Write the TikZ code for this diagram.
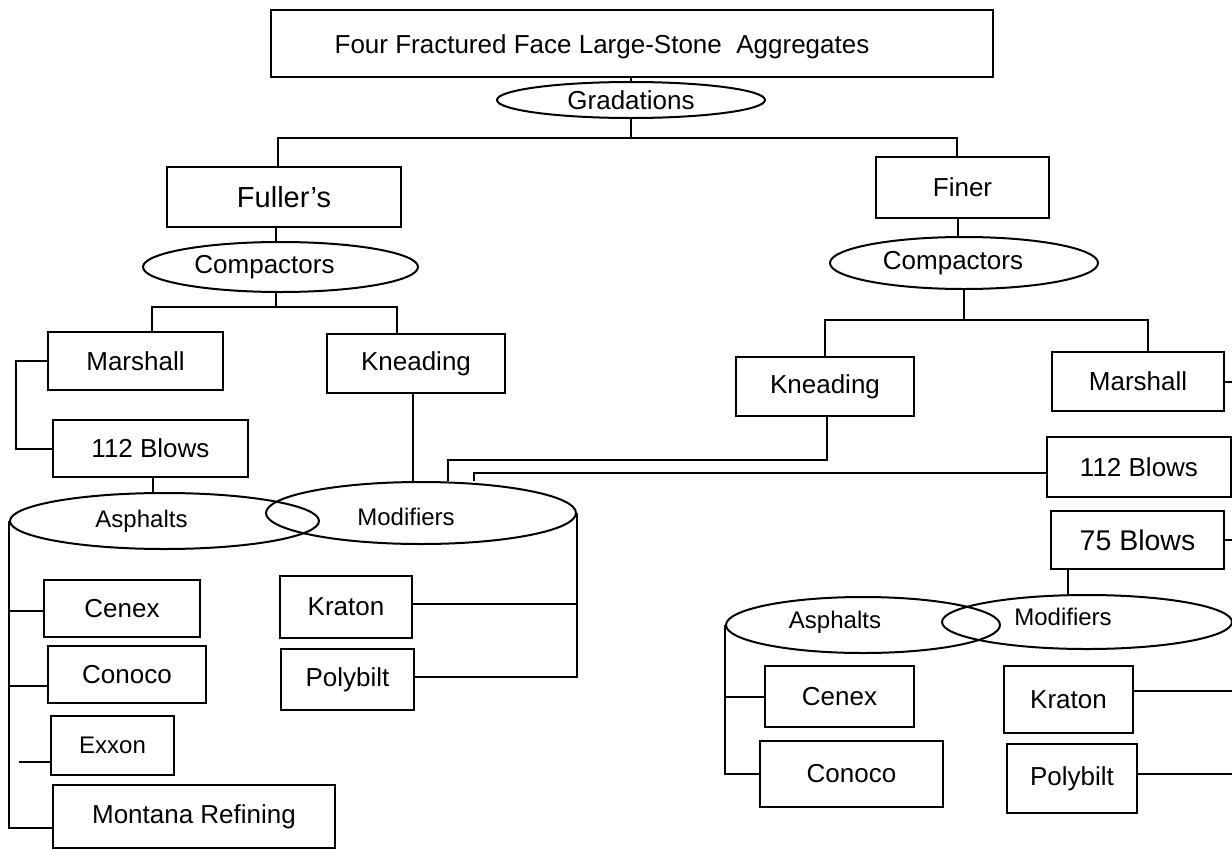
\documentclass[tikz,border=0pt]{standalone}
\usepackage{fontspec}
\setmainfont{Liberation Sans}
\usetikzlibrary{shapes.geometric}

\begin{document}
\begin{tikzpicture}[x=1pt, y=-1pt, line width=2pt,
    font=\fontsize{26}{31}\selectfont,
    box/.style={draw, rectangle, inner sep=0pt},
    oval/.style={draw, ellipse, inner sep=0pt},
    big/.style={font=\fontsize{29}{34}\selectfont},
    small/.style={font=\fontsize{24}{28}\selectfont}]
  \useasboundingbox (0,0) rectangle (1232,849);

  % top of the tree
  \node[box, minimum width=722pt, minimum height=67pt,
        label={[xshift=-30pt, yshift=-3pt]center:Four Fractured Face Large-Stone\ \ Aggregates}] (title) at (632,43.5) {};
  \node[oval, minimum width=268pt, minimum height=36pt] (grad) at (631,100) {Gradations};
  \node[box, big, minimum width=234pt, minimum height=60pt] (fuller) at (284,197) {Fuller's};
  \node[box, minimum width=173pt, minimum height=61pt] (finer) at (962.5,187.5) {Finer};
  \node[oval, minimum width=275pt, minimum height=50pt, label={[xshift=-16pt]center:Compactors}] (compL) at (280.5,267) {};
  \node[oval, minimum width=268pt, minimum height=52pt, label={[xshift=-11pt]center:Compactors}] (compR) at (964,263) {};

  % boxes
  \foreach \n/\x/\y/\w/\h/\t in {marshL/135.5/361/175/58/Marshall,
      kneadL/416/363.5/178/59/Kneading,
      blowsL/150.5/448.5/195/57/112 Blows,
      kneadR/825/386.5/178/59/Kneading,
      marshR/1138/381.5/172/59/Marshall,
      blowsR/1139/467/184/60/112 Blows,
      cenexL/122/608.5/156/57/Cenex,
      conocoL/127/674.5/158/57/Conoco,
      montana/194/816.5/282/63/Montana Refining,
      kratonL/346/607/132/62/Kraton,
      polyL/347.5/679.5/133/61/Polybilt,
      cenexR/839.5/696.5/149/61/Cenex,
      conocoR/851.5/774/183/66/Conoco,
      kratonR/1068.5/699.5/129/67/Kraton,
      polyR/1072/778.5/130/69/Polybilt}
    \node[box, minimum width=\w pt, minimum height=\h pt] (\n) at (\x,\y) {\t};
  \node[box, small, minimum width=123pt, minimum height=59pt] (exxon) at (112.5,745.5) {Exxon};
  \node[box, font=\fontsize{28.5}{33}\selectfont, minimum width=173pt, minimum height=58pt] (blows75) at (1137.5,540) {75 Blows};

  % asphalts and modifiers
  \node[oval, minimum width=309pt, minimum height=56pt, label={[small, xshift=-23pt]center:Asphalts}] (asphL) at (164.5,521) {};
  \node[oval, minimum width=310pt, minimum height=62pt, label={[small, xshift=-15pt, yshift=-4pt]center:Modifiers}] (modL) at (421,513) {};
  \node[oval, minimum width=274pt, minimum height=56pt, label={[small, xshift=-28pt, yshift=3pt]center:Asphalts}] (asphR) at (863,625) {};
  \node[oval, minimum width=290pt, minimum height=54pt, label={[small, xshift=-24pt, yshift=5pt]center:Modifiers}] (modR) at (1087,622) {};

  % connectors
  \coordinate (gbar) at (631,138);
  \draw (title.south -| grad.north) -- (grad.north);
  \draw (grad.south) -- (gbar);
  \draw ([xshift=-6pt]fuller.north) |- (gbar) -| ([xshift=-6pt]finer.north);
  \draw ([xshift=-8pt]fuller.south) -- ([xshift=-8pt]fuller.south |- compL.north);
  \coordinate (cbarL) at (276,307);
  \draw (compL.south -| cbarL) -- (cbarL);
  \draw ([xshift=16.5pt]marshL.north) |- (cbarL) -| ([xshift=-19pt]kneadL.north);
  \draw (marshL.west) -- ++(-31,0) |- (blowsL.west);
  \draw ([xshift=2.5pt]blowsL.south) -- ([xshift=2.5pt]blowsL.south |- asphL.north);
  \draw ([xshift=-3pt]kneadL.south) -- ([xshift=-3pt]kneadL.south |- modL.north);
  \draw (asphL.west) |- ([yshift=-11pt]montana.west);
  \draw ([yshift=-2.5pt]cenexL.west) -- ([yshift=-2.5pt]cenexL.west -| asphL.west);
  \draw ([yshift=-11.5pt]conocoL.west) -- ([yshift=-11.5pt]conocoL.west -| asphL.west);
  \draw ([yshift=-16.5pt]exxon.west) -- ++(-31,0);
  \draw (modL.east) |- ([yshift=2.5pt]polyL.east);
  \draw ([yshift=3pt]kratonL.east) -- ([yshift=3pt]kratonL.east -| modL.east);

  \draw ([xshift=-5pt]finer.south) -- ([xshift=-5pt]finer.south |- compR.north);
  \coordinate (cbarR) at (964,320);
  \draw (compR.south) -- (cbarR);
  \draw (kneadR.north) |- (cbarR) -| ([xshift=10pt]marshR.north);
  \draw (marshR.east) -- ++(10,0);
  \draw (blowsR.east) -- ++(4,0);
  \draw (blows75.east) -- ++(10,0);
  \draw ([xshift=2pt]kneadR.south) -- ++(0,42.5) -| ([xshift=27pt]modL.north);
  \draw ([yshift=-6pt]blowsR.west) -| ([xshift=53pt]modL.north);
  \draw ([xshift=-69.5pt]blows75.south) -- ([xshift=-69.5pt]blows75.south |- modR.north);
  \draw (asphR.west) |- (conocoR.west);
  \draw (cenexR.west) -- (cenexR.west -| asphR.west);
  \draw (modR.east) |- ([yshift=4.5pt]polyR.east);
  \draw ([yshift=8.5pt]kratonR.east) -- ([yshift=8.5pt]kratonR.east -| modR.east);
\end{tikzpicture}
\end{document}
